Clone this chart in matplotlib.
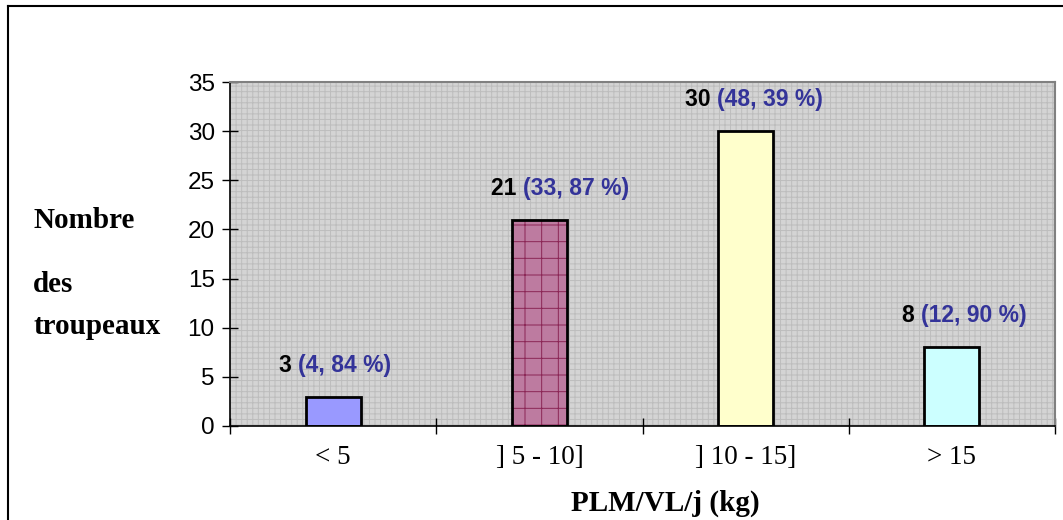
import matplotlib
matplotlib.use("Agg")
import matplotlib.pyplot as plt
from matplotlib.patches import Rectangle
from matplotlib.lines import Line2D

categories = ["< 5", "] 5 - 10]", "] 10 - 15]", "> 15"]
counts = [3, 21, 30, 8]
percent_labels = ["(4, 84 %)", "(33, 87 %)", "(48, 39 %)", "(12, 90 %)"]
bar_colors = ["#9999FF", "#BD7BA0", "#FFFFCC", "#CCFFFF"]
bar_hatches = [None, "+", None, None]
label_dx = [0.01, 0.10, 0.04, 0.06]  # small horizontal offsets of the value labels
yticks = [0, 5, 10, 15, 20, 25, 30, 35]

SANS = ["Liberation Sans", "DejaVu Sans"]
SERIF = ["Liberation Serif", "DejaVu Serif"]

plt.rcParams["hatch.linewidth"] = 0.7

fig = plt.figure(figsize=(10.63, 5.2), dpi=100)
W, H = 1063, 520
ax = fig.add_axes([230 / W, 1 - 426 / H, (1055 - 230) / W, (426 - 82) / H])

# patterned grey background
ax.set_facecolor("#D4D4D4")
ax.add_patch(Rectangle((0, 0), 1, 1, transform=ax.transAxes, facecolor="none",
                       edgecolor="#BDBDBD", hatch="+++", lw=0, zorder=0.5))

x = list(range(len(categories)))
width = 0.267
for i, (xi, v) in enumerate(zip(x, counts)):
    ax.bar(xi, v, width=width, color=bar_colors[i], edgecolor="black",
           linewidth=0, zorder=2)
    if bar_hatches[i]:
        ax.bar(xi, v, width=width, color="none", edgecolor="#8B2655",
               hatch=bar_hatches[i], linewidth=0, zorder=2.5)
    ax.bar(xi, v, width=width, color="none", edgecolor="black",
           linewidth=2, zorder=3)

ax.set_xlim(-0.5, len(categories) - 0.5)
ax.set_ylim(0, 35)
ax.set_yticks(yticks)
ax.set_yticklabels([str(t) for t in yticks], fontsize=17.5, family=SANS)
ax.tick_params(axis="y", direction="inout", length=12, width=1, pad=5, colors="black")

ax.set_xticks([i - 0.5 for i in range(len(categories) + 1)])
ax.set_xticklabels([])
ax.tick_params(axis="x", which="major", direction="inout", length=12, width=1)
ax.set_xticks(x, minor=True)
ax.set_xticklabels(categories, minor=True, fontsize=19.5, family=SERIF)
ax.tick_params(axis="x", which="minor", length=0, pad=14)

for s in ["left", "bottom"]:
    ax.spines[s].set_color("black")
    ax.spines[s].set_linewidth(1.2)
for s in ["top", "right"]:
    ax.spines[s].set_color("#808080")
    ax.spines[s].set_linewidth(1.5)

# value labels: black count + blue percentage, centered as a group
fig.canvas.draw()
renderer = fig.canvas.get_renderer()
for i, (xi, v) in enumerate(zip(x, counts)):
    t1 = ax.text(0, 0, f"{v} ", fontsize=16.5, fontweight="bold", family=SANS,
                 color="black", ha="left", va="bottom")
    t2 = ax.text(0, 0, percent_labels[i], fontsize=16.5, fontweight="bold",
                 family=SANS, color="#333399", ha="left", va="bottom")
    w1 = t1.get_window_extent(renderer).width
    w2 = t2.get_window_extent(renderer).width
    cx, cy = ax.transData.transform((xi + label_dx[i], v))
    cy += 20
    left = cx - (w1 + w2) / 2
    inv = ax.transData.inverted()
    t1.set_position(inv.transform((left, cy)))
    t2.set_position(inv.transform((left + w1, cy)))

# y-axis title as three text lines
fig.text(33 / W, 1 - 221 / H, "Nombre", fontsize=21, fontweight="bold",
         family=SERIF, ha="left", va="center")
fig.text(33 / W, 1 - 285 / H, "des", fontsize=21, fontweight="bold",
         family=SERIF, ha="left", va="center")
fig.text(33 / W, 1 - 327 / H, "troupeaux", fontsize=21, fontweight="bold",
         family=SERIF, ha="left", va="center")

fig.text(665 / W, 1 - 503 / H, "PLM/VL/j (kg)", fontsize=21, fontweight="bold",
         family=SERIF, ha="center", va="center")

# chart frame (left and top edges)
fig.add_artist(Line2D([8 / W, 8 / W], [0, 1 - 6 / H], transform=fig.transFigure,
                      color="black", lw=1.5))
fig.add_artist(Line2D([8 / W, 1], [1 - 6 / H, 1 - 6 / H], transform=fig.transFigure,
                      color="black", lw=1.5))

fig.savefig("out.png", dpi=100)
